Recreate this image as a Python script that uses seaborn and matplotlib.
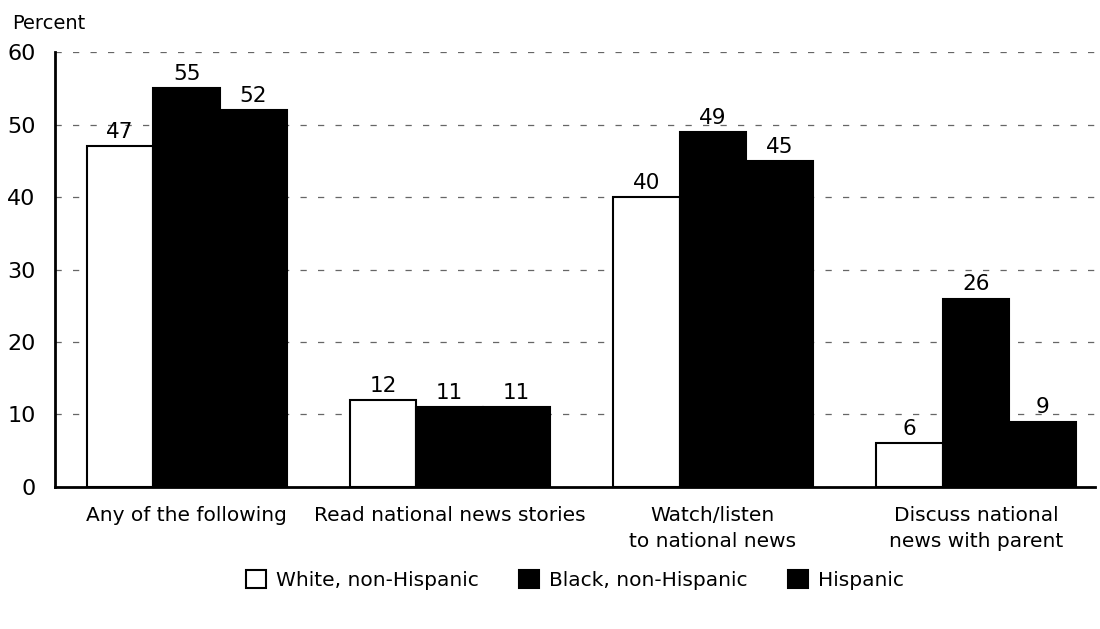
import pandas as pd
import matplotlib
matplotlib.use("Agg")
import matplotlib.pyplot as plt
import seaborn as sns

# chart values
categories = ["Any of the following", "Read national news stories",
              "Watch/listen\nto national news", "Discuss national\nnews with parent"]
groups = ["White, non-Hispanic", "Black, non-Hispanic", "Hispanic"]
white_vals = [47, 12, 40, 6]
black_vals = [55, 11, 49, 26]
hispanic_vals = [52, 11, 45, 9]
y_ticks = [0, 10, 20, 30, 40, 50, 60]

rows = []
for grp, vals in zip(groups, [white_vals, black_vals, hispanic_vals]):
    for cat, v in zip(categories, vals):
        rows.append({"category": cat, "group": grp, "percent": v})
df = pd.DataFrame(rows)

sns.set_theme(style="white")
plt.rcParams["font.family"] = ["DejaVu Sans"]
plt.rcParams["text.color"] = "black"
plt.rcParams["xtick.color"] = "black"
plt.rcParams["ytick.color"] = "black"

fig = plt.figure(figsize=(11, 6.29), dpi=100)
ax = fig.add_axes([0.05, 0.226, 0.945, 0.691])

palette = {"White, non-Hispanic": "white", "Black, non-Hispanic": "black", "Hispanic": "black"}
sns.barplot(data=df, x="category", y="percent", hue="group", order=categories,
            hue_order=groups, palette=palette, edgecolor="black", linewidth=1.5,
            width=0.76, saturation=1, ax=ax, zorder=3)

for container in ax.containers:
    ax.bar_label(container, fmt="%d", padding=3, fontsize=15.5, color="black", zorder=4)

ax.set_ylim(0, 60)
ax.set_xlim(-0.5, 3.45)
ax.set_yticks(y_ticks)
ax.tick_params(axis="y", labelsize=16, length=0, pad=14)
ax.tick_params(axis="x", labelsize=14.5, length=0, pad=14)
for lbl in ax.get_xticklabels():
    lbl.set_linespacing(1.45)
ax.yaxis.grid(True, linestyle=(0, (5, 9)), color="#666666", linewidth=0.9, zorder=0)
ax.set_axisbelow(True)
ax.set_xlabel("")
ax.set_ylabel("")
for side in ["top", "right"]:
    ax.spines[side].set_visible(False)
for side in ["left", "bottom"]:
    ax.spines[side].set_color("black")
    ax.spines[side].set_linewidth(2)

fig.text(0.011, 0.963, "Percent", fontsize=14, ha="left", va="center")

handles, labels = ax.get_legend_handles_labels()
ax.legend(handles, labels, loc="center", bbox_to_anchor=(0.5, -0.215), ncol=3,
          frameon=False, fontsize=14.5, handlelength=1.0, handleheight=1.0,
          columnspacing=2.0, handletextpad=0.5)

fig.savefig("out.png", dpi=100)
